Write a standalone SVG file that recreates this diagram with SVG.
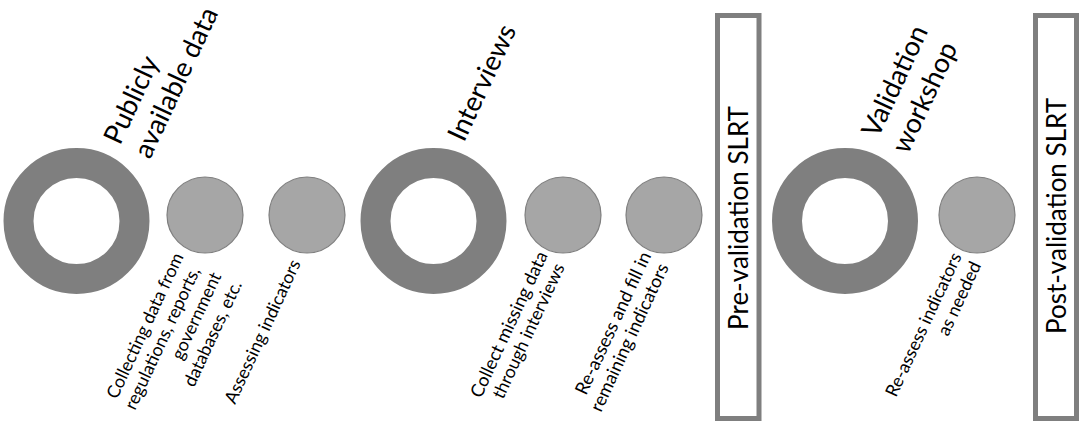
<svg xmlns="http://www.w3.org/2000/svg" width="1084" height="425" viewBox="0 0 1084 425">
<style>
text{font-family:Lato,"Liberation Sans",sans-serif;fill:#000}
.ring{fill:none;stroke:#7f7f7f;stroke-width:30}
.dot{fill:#a6a6a6;stroke:#7f7f7f;stroke-width:1.2}
.box{fill:#fff;stroke:#7f7f7f;stroke-width:5}
.big{font-size:27.3px}
.small{font-size:17.8px}
.side{font-size:26px}
</style>
<rect width="1084" height="425" fill="#fff"/>
<g id="connectors"/>
<g id="publicly-available-data"><circle class="ring" cx="76.500" cy="221" r="58"/>
<text class="big" transform="translate(120,146) rotate(-65)">Publicly</text>
<text class="big" transform="translate(150,160) rotate(-65)">available data</text></g>
<g id="collecting-data"><circle class="dot" cx="205" cy="215" r="38"/>
<text class="small" transform="translate(117,400) rotate(-65)">Collecting data from</text>
<text class="small" transform="translate(135,411) rotate(-65)">regulations, reports,</text>
<text class="small" transform="translate(182,361) rotate(-65)">government</text>
<text class="small" transform="translate(194,388) rotate(-65)">databases, etc.</text></g>
<g id="assessing-indicators"><circle class="dot" cx="307" cy="215" r="38"/>
<text class="small" transform="translate(235,405) rotate(-65)">Assessing indicators</text></g>
<g id="interviews"><circle class="ring" cx="433.500" cy="221" r="58"/>
<text class="big" transform="translate(464,143) rotate(-65)">Interviews</text></g>
<g id="collect-missing-data"><circle class="dot" cx="563" cy="215" r="38"/>
<text class="small" style="font-size:18.2px" transform="translate(481,399) rotate(-65)">Collect missing data</text>
<text class="small" transform="translate(503,400) rotate(-65)">through interviews</text></g>
<g id="re-assess-fill"><circle class="dot" cx="664" cy="215" r="38"/>
<text class="small" style="font-size:18.3px" transform="translate(586,396) rotate(-65)">Re-assess and fill in</text>
<text class="small" style="font-size:18.2px" transform="translate(601,413) rotate(-65)">remaining indicators</text></g>
<g id="pre-validation-slrt"><rect class="box" x="717.500" y="15.500" width="41.500" height="403"/>
<text class="side" text-anchor="middle" transform="translate(748,218) rotate(-90)">Pre-validation SLRT</text></g>
<g id="validation-workshop"><circle class="ring" cx="845" cy="221" r="58"/>
<text class="big" transform="translate(878,139) rotate(-65)">Validation</text>
<text class="big" transform="translate(908,155) rotate(-65)">workshop</text></g>
<g id="re-assess-indicators"><circle class="dot" cx="977" cy="215" r="38"/>
<text class="small" transform="translate(896,398) rotate(-65)">Re-assess indicators</text>
<text class="small" transform="translate(948,337) rotate(-65)">as needed</text></g>
<g id="post-validation-slrt"><rect class="box" x="1035.500" y="15.500" width="41" height="403"/>
<text class="side" text-anchor="middle" transform="translate(1066,216) rotate(-90)">Post-validation SLRT</text></g>
</svg>
